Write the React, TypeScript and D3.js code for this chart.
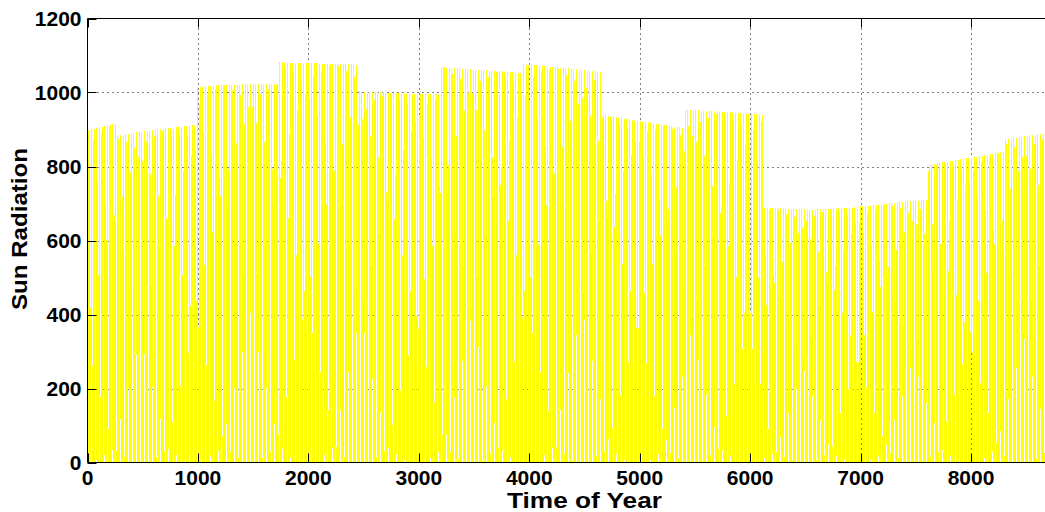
import React from "react";
import * as d3 from "d3";

// Daily peak radiation, grouped by the visible blocks
const block1 = [898, 900, 902, 904, 906, 908, 909, 911, 912, 914, 915];
const block2 = [882, 884, 886, 887, 888, 890, 891, 892, 893, 894, 895, 896, 897, 898, 899, 900, 901, 902, 903, 904, 905, 906, 906, 907, 908, 909, 910, 910, 911, 913];
const block3 = [1014, 1016, 1016, 1017, 1017, 1018, 1018, 1019, 1019, 1019, 1020, 1020, 1020, 1021, 1021, 1021, 1021, 1022, 1022, 1022, 1022, 1022, 1023, 1023, 1023, 1023, 1023, 1023, 1022, 1022, 1022];
const block4 = [1082, 1082, 1081, 1081, 1081, 1081, 1080, 1080, 1080, 1080, 1079, 1079, 1079, 1079, 1079, 1078, 1078, 1078, 1078, 1078, 1077, 1077, 1077, 1077, 1076, 1076, 1076, 1076, 1075, 1075];
const block5 = [1003, 1002, 1002, 1001, 1001, 1001, 1000, 1000, 1000, 1000, 999, 999, 999, 999, 998, 998, 998, 998, 997, 997, 997, 997, 996, 996, 996, 996, 995, 995, 995, 995, 994];
const block6 = [1068, 1068, 1067, 1067, 1066, 1066, 1065, 1065, 1064, 1064, 1063, 1063, 1062, 1062, 1061, 1061, 1060, 1060, 1059, 1059, 1058, 1058, 1057, 1057, 1056, 1056, 1055, 1055, 1054, 1054, 1053];
const block7 = [1076, 1075, 1075, 1074, 1074, 1073, 1072, 1072, 1071, 1070, 1070, 1069, 1068, 1068, 1067, 1066, 1066, 1065, 1064, 1064, 1063, 1062, 1062, 1061, 1060, 1059, 1058, 1057, 1056, 1055];
const block8 = [939, 938, 937, 935, 934, 933, 932, 930, 929, 928, 927, 926, 924, 923, 922, 921, 920, 919, 918, 917, 916, 915, 913, 912, 911, 910, 909, 908, 907, 906, 904];
const block9 = [953, 954, 953, 953, 952, 952, 951, 951, 950, 950, 949, 949, 948, 948, 947, 947, 946, 946, 945, 945, 944, 944, 943, 943, 942, 942, 941, 941, 940, 940];
const block10 = [689, 689, 689, 688, 688, 688, 687, 687, 686, 686, 686, 685, 685, 685, 684, 684, 683, 683, 683, 683, 684, 684, 684, 685, 685, 685, 686, 686, 687, 687, 688, 688, 689, 689, 690, 691, 692, 692, 693, 694, 694, 695, 696, 696, 697, 698, 699, 700, 701, 702, 703, 703, 704, 705, 706, 706, 707, 708, 708, 709, 709, 710];
const block11 = [805, 806, 808, 809, 810, 811, 812, 814, 815, 816, 817, 818, 819, 820, 822, 823, 824, 825, 826, 828, 829, 830, 831, 833, 834, 835, 837, 838, 840];
const block12 = [873, 874, 875, 877, 878, 879, 880, 882, 883, 884, 885, 886, 887, 888, 889, 890, 892, 893, 894, 895, 896];

// Fraction of the daily peak for each hour of the day
const dayProfile = [0, 0, 0, 0, 0, 0, 0.04, 0.26, 0.5, 0.71, 0.87, 0.97, 1, 0.97, 0.87, 0.71, 0.5, 0.26, 0.04, 0, 0, 0, 0, 0];

const xTicks = [0, 1000, 2000, 3000, 4000, 5000, 6000, 7000, 8000, 9000];
const xTickLabels = ["0", "1000", "2000", "3000", "4000", "5000", "6000", "7000", "8000"];
const yTicks = [0, 200, 400, 600, 800, 1000, 1200];

const dailyPeaks = [block1, block2, block3, block4, block5, block6, block7, block8, block9, block10, block11, block12].flat();
const hourly: number[] = dailyPeaks.flatMap((p) => dayProfile.map((f) => p * f));

const W = 1045;
const H = 512;
const left = 87.5;
const right = 1081.5;
const top = 18.5;
const bottom = 462.5;

export default function App() {
  const x = d3.scaleLinear().domain([0, 9000]).range([left, right]);
  const y = d3.scaleLinear().domain([0, 1200]).range([bottom, top]);
  const line = d3
    .line<number>()
    .x((_, i) => x(i))
    .y((d) => y(d));
  const path = line(hourly) || "";
  const font = "'Liberation Sans', Arial, Helvetica, sans-serif";
  const tickLen = 9;
  return (
    <svg
      width={W}
      height={H}
      style={{ position: "absolute", left: 0, top: 0, background: "#fff" }}
      xmlns="http://www.w3.org/2000/svg"
    >
      <rect x={0} y={0} width={W} height={H} fill="#fff" />
      {/* grid */}
      <g stroke="#000" strokeWidth={1} strokeDasharray="1,4" fill="none">
        {xTicks
          .filter((t) => t > 0 && t < 9000)
          .map((t) => (
            <line key={"gx" + t} x1={Math.round(x(t)) + 0.5} x2={Math.round(x(t)) + 0.5} y1={top} y2={bottom} />
          ))}
        {yTicks
          .filter((t) => t > 0 && t < 1200)
          .map((t) => (
            <line key={"gy" + t} x1={left} x2={right} y1={Math.round(y(t)) + 0.5} y2={Math.round(y(t)) + 0.5} />
          ))}
      </g>
      {/* data */}
      <defs>
        <clipPath id="plotclip">
          <rect x={left} y={top} width={right - left} height={bottom - top} />
        </clipPath>
      </defs>
      <path
        d={path}
        fill="none"
        stroke="#ffff00"
        strokeWidth={1}
        shapeRendering="crispEdges"
        clipPath="url(#plotclip)"
      />
      {/* axes box */}
      <g stroke="#000" strokeWidth={1} fill="none">
        <line x1={left} x2={right} y1={bottom} y2={bottom} />
        <line x1={left} x2={right} y1={top} y2={top} />
        <line x1={left} x2={left} y1={top} y2={bottom} />
        <line x1={right} x2={right} y1={top} y2={bottom} />
        {xTicks.map((t) => (
          <g key={"tx" + t}>
            <line x1={Math.round(x(t)) + 0.5} x2={Math.round(x(t)) + 0.5} y1={bottom} y2={bottom - tickLen} />
            <line x1={Math.round(x(t)) + 0.5} x2={Math.round(x(t)) + 0.5} y1={top} y2={top + tickLen} />
          </g>
        ))}
        {yTicks.map((t) => (
          <g key={"ty" + t}>
            <line x1={left} x2={left + tickLen} y1={Math.round(y(t)) + 0.5} y2={Math.round(y(t)) + 0.5} />
            <line x1={right} x2={right - tickLen} y1={Math.round(y(t)) + 0.5} y2={Math.round(y(t)) + 0.5} />
          </g>
        ))}
      </g>
      {/* tick labels */}
      <g fontFamily={font} fontWeight="bold" fontSize={21} fill="#000">
        {xTickLabels.map((t) => (
          <text key={"lx" + t} x={x(+t)} y={bottom + 22} textAnchor="middle">
            {t}
          </text>
        ))}
        {yTicks.map((t) => (
          <text key={"ly" + t} x={left - 6} y={y(t) + 7.5} textAnchor="end">
            {t}
          </text>
        ))}
      </g>
      {/* axis labels */}
      <text
        x={(left + right) / 2}
        y={508}
        textAnchor="middle"
        fontFamily={font}
        fontWeight="bold"
        fontSize={22}
        textLength={155}
        lengthAdjust="spacingAndGlyphs"
        fill="#000"
      >
        Time of Year
      </text>
      <text
        transform={`translate(27, 229) rotate(-90)`}
        textAnchor="middle"
        fontFamily={font}
        fontWeight="bold"
        fontSize={22}
        textLength={162}
        lengthAdjust="spacingAndGlyphs"
        fill="#000"
      >
        Sun Radiation
      </text>
    </svg>
  );
}
